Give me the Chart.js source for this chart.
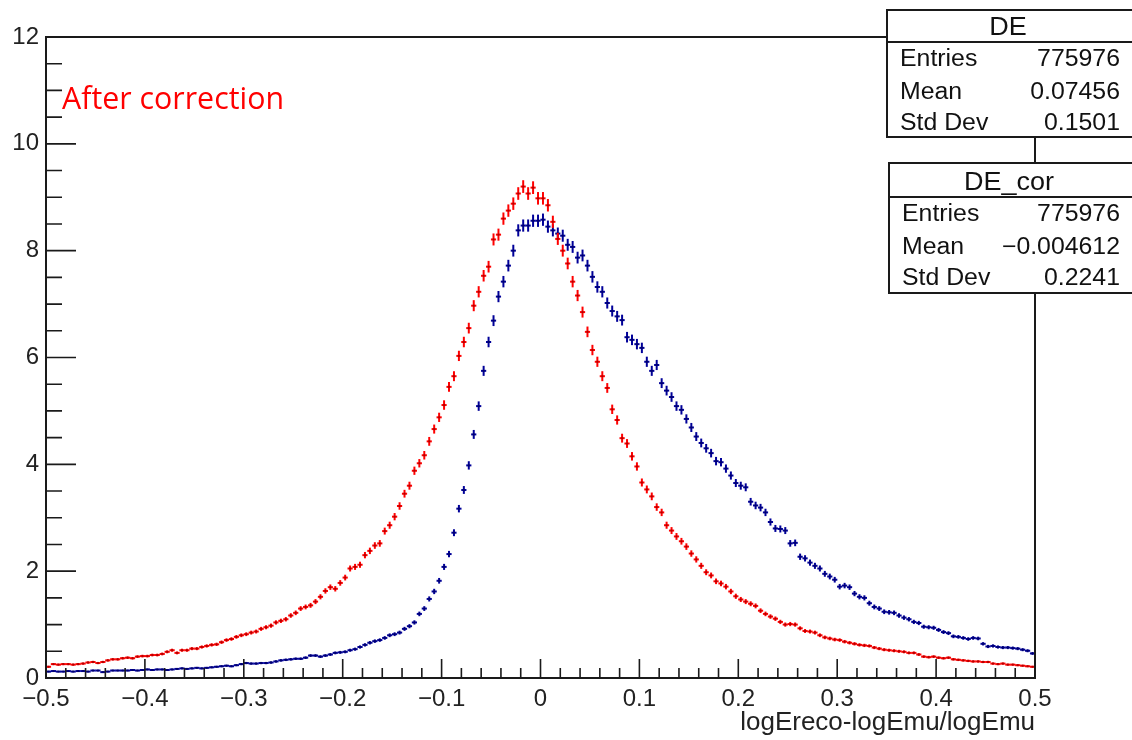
<!DOCTYPE html>
<html><head><meta charset="utf-8">
<script src="https://cdn.jsdelivr.net/npm/chart.js@4.4.1/dist/chart.umd.min.js"></script>
<style>html,body{margin:0;padding:0;background:#fff;overflow:hidden}#wrap{position:relative;width:1132px;height:740px}</style>
</head><body><div id="wrap"><canvas id="c" width="1132" height="740"></canvas></div>
<script>
// Histogram binning: 200 bins from -0.5 to 0.5
const binLow = -0.5;
const binWidth = 0.005;

// DE_cor (red) — normalised bin contents
const deCor = [
0.21,0.26,0.25,0.26,0.26,0.25,0.26,0.27,0.29,0.30,
0.28,0.30,0.33,0.35,0.35,0.37,0.38,0.37,0.40,0.41,
0.41,0.43,0.43,0.45,0.49,0.52,0.47,0.52,0.52,0.55,
0.55,0.58,0.60,0.62,0.63,0.67,0.71,0.73,0.77,0.80,
0.82,0.85,0.87,0.92,0.95,0.98,1.04,1.07,1.10,1.17,
1.22,1.30,1.33,1.36,1.43,1.52,1.63,1.70,1.67,1.78,
1.88,2.05,2.08,2.12,2.30,2.38,2.48,2.52,2.75,2.86,
3.02,3.22,3.45,3.60,3.88,4.02,4.17,4.43,4.66,4.88,
5.11,5.45,5.65,6.03,6.29,6.55,6.97,7.23,7.53,7.70,
8.21,8.30,8.60,8.75,8.88,9.07,9.20,9.07,9.18,8.98,
8.98,8.85,8.54,8.22,8.00,7.76,7.42,7.16,6.85,6.48,
6.14,5.92,5.65,5.43,5.03,4.83,4.49,4.39,4.15,3.96,
3.66,3.53,3.40,3.20,3.10,2.86,2.76,2.65,2.56,2.46,
2.33,2.22,2.10,1.98,1.92,1.81,1.77,1.71,1.62,1.53,
1.47,1.43,1.39,1.35,1.26,1.20,1.15,1.11,1.05,1.00,
1.01,1.00,0.93,0.88,0.87,0.85,0.80,0.76,0.74,0.72,
0.71,0.68,0.66,0.64,0.62,0.61,0.60,0.57,0.55,0.53,
0.52,0.51,0.50,0.49,0.47,0.47,0.44,0.40,0.39,0.40,
0.38,0.37,0.38,0.35,0.34,0.33,0.32,0.31,0.31,0.30,
0.30,0.27,0.26,0.27,0.25,0.25,0.24,0.23,0.22,0.21
];

// DE (blue) — normalised bin contents
const de = [
0.12,0.13,0.12,0.12,0.13,0.12,0.13,0.13,0.12,0.14,
0.14,0.11,0.12,0.14,0.14,0.14,0.14,0.15,0.14,0.15,
0.16,0.15,0.16,0.16,0.15,0.16,0.17,0.18,0.17,0.18,
0.19,0.18,0.19,0.20,0.21,0.22,0.23,0.22,0.24,0.26,
0.28,0.27,0.27,0.28,0.28,0.29,0.31,0.33,0.34,0.35,
0.36,0.36,0.38,0.42,0.42,0.40,0.42,0.44,0.47,0.48,
0.49,0.52,0.54,0.58,0.62,0.66,0.69,0.71,0.75,0.80,
0.82,0.85,0.92,0.97,1.04,1.20,1.30,1.48,1.62,1.82,
2.08,2.32,2.72,3.17,3.52,3.98,4.56,5.09,5.75,6.29,
6.69,7.14,7.42,7.72,8.00,8.38,8.47,8.47,8.56,8.56,
8.58,8.45,8.38,8.32,8.28,8.11,8.07,7.87,7.91,7.72,
7.51,7.32,7.23,7.02,6.87,6.77,6.70,6.38,6.33,6.25,
6.18,5.92,5.75,5.86,5.52,5.38,5.26,5.09,5.02,4.85,
4.69,4.52,4.40,4.30,4.21,4.06,4.04,3.92,3.79,3.65,
3.60,3.57,3.30,3.23,3.19,3.10,2.92,2.80,2.79,2.76,
2.52,2.53,2.27,2.24,2.16,2.10,2.05,1.95,1.90,1.84,
1.71,1.73,1.70,1.58,1.52,1.50,1.40,1.33,1.30,1.24,
1.23,1.22,1.17,1.13,1.10,1.05,1.03,0.96,0.95,0.94,
0.90,0.86,0.84,0.78,0.77,0.75,0.73,0.75,0.74,0.64,
0.59,0.60,0.58,0.57,0.57,0.56,0.55,0.53,0.51,0.46
];

const xTickValues = [-0.5,-0.4,-0.3,-0.2,-0.1,0,0.1,0.2,0.3,0.4,0.5];
const xTickLabels = ['\u22120.5','\u22120.4','\u22120.3','\u22120.2','\u22120.1','0','0.1','0.2','0.3','0.4','0.5'];
const yTickValues = [0,2,4,6,8,10,12];
const yTickLabels = ['0','2','4','6','8','10','12'];
const xTitle = 'logEreco-logEmu/logEmu';
const annotation = 'After correction';
const statsDE = {title:'DE', rows:[['Entries','775976'],['Mean','0.07456'],['Std Dev','0.1501']]};
const statsDEcor = {title:'DE_cor', rows:[['Entries','775976'],['Mean','\u22120.004612'],['Std Dev','0.2241']]};

const RED = '#ff0000';
const BLUE = '#000099';
const FONT = '"Liberation Sans", Arial, Helvetica, sans-serif';
const ERR_SCALE = 650; // statistical error ~ sqrt(content/ERR_SCALE)

const binCenters = de.map((_, i) => +(binLow + binWidth * (i + 0.5)).toFixed(4));

function stretchText(ctx, text, x, y, align, sx) {
  ctx.save();
  ctx.translate(x, y);
  ctx.scale(sx, 1);
  ctx.textAlign = align;
  ctx.fillText(text, 0, 0);
  ctx.restore();
}

function statsBox(ctx, b, s) {
  ctx.save();
  ctx.fillStyle = '#fff';
  ctx.fillRect(b.x, b.y, b.w, b.h);
  ctx.strokeStyle = '#1a1a1a';
  ctx.lineWidth = 2;
  ctx.strokeRect(b.x, b.y, b.w, b.h);
  ctx.beginPath();
  ctx.moveTo(b.x, b.sep); ctx.lineTo(b.x + b.w, b.sep);
  ctx.stroke();
  ctx.fillStyle = '#111';
  ctx.textBaseline = 'middle';
  ctx.font = '25px ' + FONT;
  stretchText(ctx, s.title, b.titleX, b.titleY, 'center', 1.08);
  ctx.font = '23px ' + FONT;
  s.rows.forEach((r, i) => {
    stretchText(ctx, r[0], b.labelX, b.rowY[i], 'left', 1.08);
    stretchText(ctx, r[1], b.valueX, b.rowY[i], 'right', 1.08);
  });
  ctx.restore();
}

const rootPlugin = {
  id: 'rootStyle',
  afterDatasetDraw(chart, args) {
    const ctx = chart.ctx;
    const ds = chart.data.datasets[args.index];
    const ys = chart.scales.y;
    ctx.save();
    ctx.strokeStyle = ds.borderColor;
    ctx.lineWidth = 2;
    args.meta.data.forEach((pt, i) => {
      const v = ds.data[i].y;
      const e = Math.sqrt(v / ERR_SCALE);
      ctx.beginPath();
      ctx.moveTo(pt.x, ys.getPixelForValue(v + e));
      ctx.lineTo(pt.x, ys.getPixelForValue(v - e));
      ctx.stroke();
    });
    ctx.fillStyle = 'rgba(0,0,0,0.3)';
    args.meta.data.forEach(pt => { ctx.fillRect(pt.x - 1, pt.y - 1, 2, 2); });
    ctx.restore();
  },
  afterDraw(chart) {
    const ctx = chart.ctx;
    const {left, right, top, bottom} = chart.chartArea;
    const xs = chart.scales.x, ys = chart.scales.y;
    ctx.save();
    ctx.strokeStyle = '#1a1a1a';
    ctx.lineWidth = 2;
    ctx.strokeRect(left, top, right - left, bottom - top);
    ctx.lineWidth = 1.6;
    ctx.beginPath();
    for (let k = 0; k <= 50; k++) {
      const p = xs.getPixelForValue(-0.5 + k * 0.02);
      const len = (k % 5 === 0) ? 19 : 10;
      ctx.moveTo(p, bottom); ctx.lineTo(p, bottom - len);
    }
    for (let k = 0; k <= 24; k++) {
      const p = ys.getPixelForValue(k * 0.5);
      const len = (k % 4 === 0) ? 30 : 16;
      ctx.moveTo(left, p); ctx.lineTo(left + len, p);
    }
    ctx.stroke();
    ctx.restore();

    statsBox(ctx, {x:887, y:10, w:262, h:127, sep:42, titleX:1008, titleY:28, labelX:900, valueX:1120, rowY:[60,93,124]}, statsDE);
    statsBox(ctx, {x:889, y:163, w:262, h:130, sep:197, titleX:1009, titleY:183, labelX:902, valueX:1120, rowY:[215,248,279]}, statsDEcor);

    // annotation
    ctx.save();
    ctx.fillStyle = RED;
    ctx.font = '31px "Open Sans", "Noto Sans", sans-serif';
    ctx.textBaseline = 'alphabetic';
    const w = ctx.measureText(annotation).width;
    stretchText(ctx, annotation, 62, 109, 'left', 222 / w);
    ctx.restore();
  }
};

new Chart(document.getElementById('c'), {
  type: 'scatter',
  data: {
    datasets: [
      {label: 'DE_cor', data: binCenters.map((x, i) => ({x, y: deCor[i]})),
       borderColor: RED, backgroundColor: RED, pointStyle: 'line', pointRadius: 2.6, borderWidth: 2, showLine: false},
      {label: 'DE', data: binCenters.map((x, i) => ({x, y: de[i]})),
       borderColor: BLUE, backgroundColor: BLUE, pointStyle: 'line', pointRadius: 2.6, borderWidth: 2, showLine: false}
    ]
  },
  options: {
    responsive: false,
    animation: false,
    devicePixelRatio: 1,
    events: [],
    layout: {padding: {left: 0, top: 37, right: 97, bottom: 0}},
    plugins: {legend: {display: false}, tooltip: {enabled: false}},
    scales: {
      x: {
        type: 'linear', min: -0.5, max: 0.5,
        grid: {display: false, drawTicks: false}, border: {display: false},
        afterBuildTicks: s => { s.ticks = xTickValues.map(v => ({value: v})); },
        afterFit: s => { s.height = 62; },
        ticks: {callback: (v, i) => xTickLabels[i], font: {family: FONT, size: 24}, color: '#222', padding: 7, maxRotation: 0, autoSkip: false},
        title: {display: true, text: xTitle, align: 'end', font: {family: FONT, size: 26}, color: '#222', padding: {top: 0, bottom: 2}}
      },
      y: {
        min: 0, max: 12,
        grid: {display: false, drawTicks: false}, border: {display: false},
        afterBuildTicks: s => { s.ticks = yTickValues.map(v => ({value: v})); },
        afterFit: s => { s.width = 46; },
        ticks: {callback: (v, i) => yTickLabels[i], font: {family: FONT, size: 24}, color: '#222', padding: 7, autoSkip: false}
      }
    }
  },
  plugins: [rootPlugin]
});
</script></body></html>
